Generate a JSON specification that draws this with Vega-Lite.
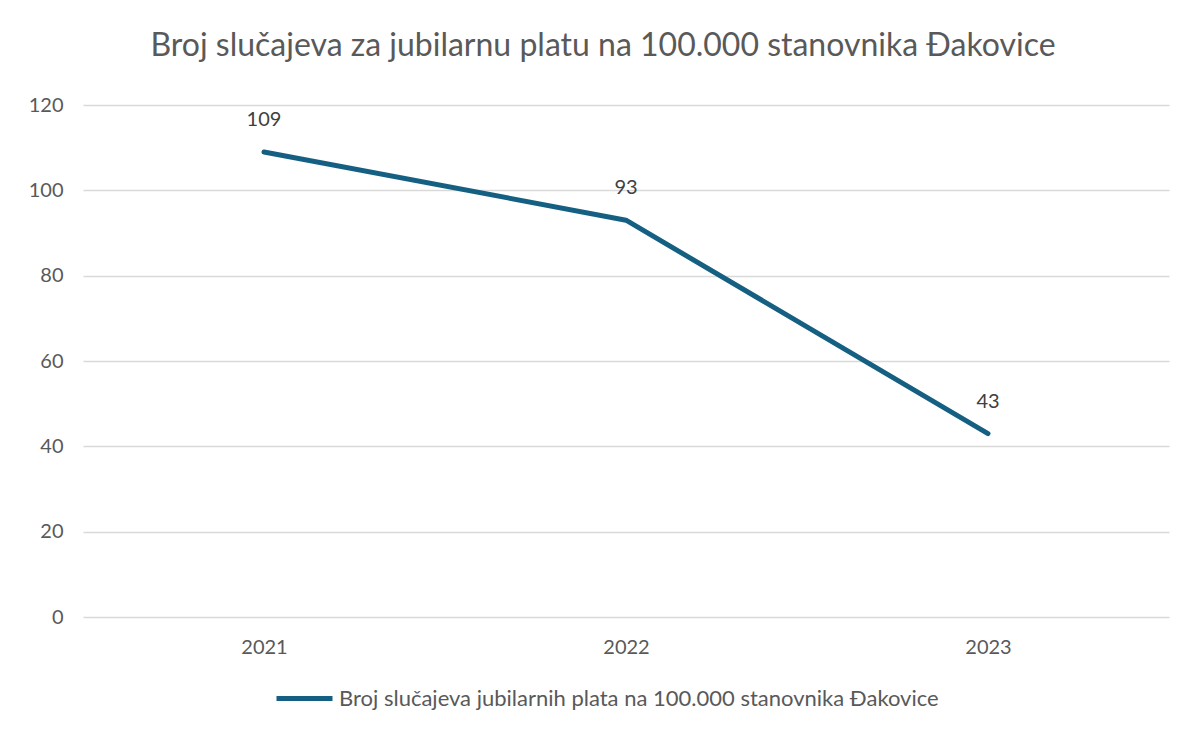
{
  "$schema": "https://vega.github.io/schema/vega-lite/v6.json",
  "width": 1086,
  "height": 512,
  "autosize": {"type": "none"},
  "padding": {"left": 83, "top": 105, "right": 16, "bottom": 112},
  "background": "white",
  "config": {
    "font": "Lato",
    "view": {"stroke": null},
    "axis": {"labelFont": "Lato", "labelColor": "#595959", "labelFontSize": 20, "ticks": false, "domain": false, "title": null}
  },
  "title": {
    "text": "Broj slučajeva za jubilarnu platu na 100.000 stanovnika Đakovice",
    "font": "Lato",
    "fontSize": 32,
    "fontWeight": "normal",
    "color": "#595959",
    "anchor": "middle",
    "dx": -23,
    "offset": 32
  },
  "data": {
    "values": [
      {"year": "2021", "value": 109, "series": "Broj slučajeva jubilarnih plata na 100.000 stanovnika Đakovice"},
      {"year": "2022", "value": 93, "series": "Broj slučajeva jubilarnih plata na 100.000 stanovnika Đakovice"},
      {"year": "2023", "value": 43, "series": "Broj slučajeva jubilarnih plata na 100.000 stanovnika Đakovice"}
    ]
  },
  "encoding": {
    "x": {"field": "year", "type": "ordinal", "scale": {"type": "point", "padding": 0.5}, "axis": {"labelAngle": 0, "labelPadding": 20, "grid": false}},
    "y": {"field": "value", "type": "quantitative", "scale": {"domain": [0, 120]}, "axis": {"values": [0, 20, 40, 60, 80, 100, 120], "labelPadding": 20, "gridColor": "#d9d9d9", "gridWidth": 1.5}}
  },
  "layer": [
    {
      "mark": {"type": "line", "strokeWidth": 5, "strokeCap": "round", "strokeJoin": "round"},
      "encoding": {
        "color": {
          "field": "series", "type": "nominal",
          "scale": {"range": ["#156082"]},
          "legend": {
            "title": null, "orient": "none", "legendX": 191, "legendY": 563,
            "symbolType": "stroke", "symbolSize": 3136, "symbolStrokeWidth": 5,
            "labelFontSize": 22, "labelColor": "#595959", "labelFont": "Lato",
            "labelOffset": 4, "padding": 0, "labelLimit": 800
          }
        }
      }
    },
    {
      "mark": {"type": "text", "dy": -32, "fontSize": 20, "color": "#404040", "font": "Lato"},
      "encoding": {"text": {"field": "value", "type": "quantitative"}}
    }
  ]
}
